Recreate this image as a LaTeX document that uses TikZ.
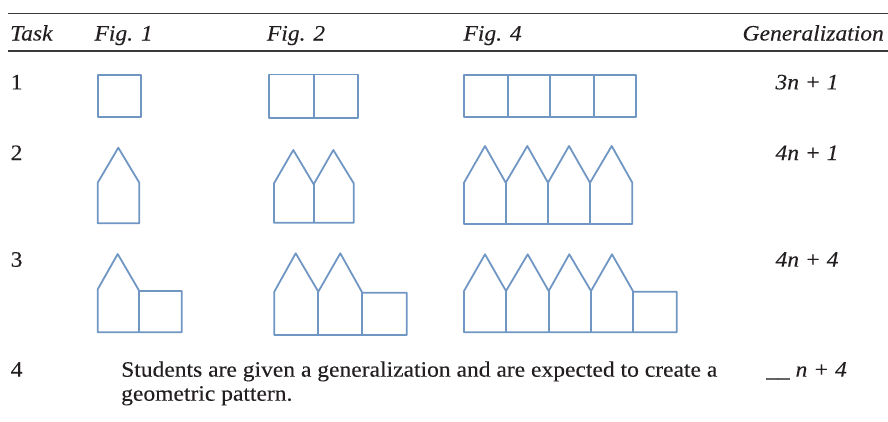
\documentclass[tikz,border=0pt]{standalone}
\usepackage{fontspec}
\setmainfont{Liberation Serif}[FakeStretch=1.07,FakeBold=0.12]
\definecolor{ink}{HTML}{231F20}
\definecolor{rulec}{HTML}{3A3A3A}
\definecolor{shape}{HTML}{7096C4}
\begin{document}
\begin{tikzpicture}[x=1pt,y=-1pt,
  txt/.style={inner sep=0pt,anchor=base west,text=ink,font=\fontsize{22}{26}\selectfont},
  itxt/.style={txt,font=\fontsize{22}{26}\selectfont\itshape},
  tabrule/.style={draw=rulec,line width=1.3pt},
  fig/.style={draw=shape,line width=1.8pt,line join=round}]
\useasboundingbox (0,0) rectangle (888,421);
% rules
\coordinate (r1a) at (8,13.3); \coordinate (r1b) at (888,13.3);
\coordinate (r2a) at (8,51); \coordinate (r2b) at (888,51);
\draw[tabrule] (r1a) -- (r1b);
\draw[tabrule] (r2a) -- (r2b);
% header
\node[itxt] (hTask) at (10,40.5) {Task};
\node[itxt] (hF1) at (94.3,40.5) {Fig. 1};
\node[itxt] (hF2) at (266.7,40.5) {Fig. 2};
\node[itxt] (hF4) at (463.3,40.5) {Fig. 4};
\node[itxt,anchor=base east] (hGen) at (884,40.5) {Generalization};
% task numbers
\node[txt] (t1) at (10.5,89.3) {1};
\node[txt] (t2) at (10.5,160) {2};
\node[txt] (t3) at (10.5,266.7) {3};
\node[txt] (t4) at (10.5,376.7) {4};
% generalizations
\node[itxt,anchor=base] (g1) at (807,89.3) {3n + 1};
\node[itxt,anchor=base] (g2) at (807,160) {4n + 1};
\node[itxt,anchor=base] (g3) at (807,266.7) {4n + 4};
\node[itxt] (g4) at (766,376.7) {\_\_ n + 4};
% task 4 text
\node[txt] (d1) at (121,376.7) {Students are given a generalization and are expected to create a};
\node[txt] (d2) at (121,400.7) {geometric pattern.};
% ---- Row 1: squares
\draw[fig] (98.3,75) rectangle (141,116.7);
\draw[fig] (269.3,74.5) rectangle (357.7,118); \draw[fig] (314,74.5) -- (314,118);
\draw[fig] (464.3,75) rectangle (635.7,117.3);
\foreach \x in {508.3,550,594} \draw[fig] (\x,75) -- (\x,117.3);
% ---- Row 2: houses
\draw[fig] (97.7,223.3) -- (97.7,182.7) -- (118.3,147.7) -- (139.3,182.7) -- (139.3,223.3) -- cycle;
\draw[fig] (274,222.7) -- (274,183.3) -- (293.3,150) -- (313.7,184.3) -- (333.3,150) -- (353.7,183.3) -- (353.7,222.7) -- cycle;
\draw[fig] (313.7,184.3) -- (313.7,222.7);
\draw[fig] (464,224) -- (464,182.7) -- (485,146) -- (505.7,182.7) -- (527.3,146) -- (548,182.7) -- (569,146) -- (590,182.7) -- (611.7,146) -- (632.3,182.7) -- (632.3,224) -- cycle;
\foreach \x in {505.7,548,590} \draw[fig] (\x,182.7) -- (\x,224);
% ---- Row 3: houses + square
\draw[fig] (97.7,332.3) -- (97.7,289.3) -- (117.7,254) -- (139.3,291) -- (181.7,291) -- (181.7,332.3) -- cycle;
\draw[fig] (139.3,291) -- (139.3,332.3);
\draw[fig] (274.3,335) -- (274.3,291.7) -- (295.7,253.3) -- (318.3,291.7) -- (340.3,253.3) -- (362.3,292.7) -- (406.7,292.7) -- (406.7,335) -- cycle;
\draw[fig] (318.3,291.7) -- (318.3,335);
\draw[fig] (362.3,292.7) -- (362.3,335);
\draw[fig] (464,332.3) -- (464,291) -- (485,254.3) -- (506,291) -- (527.7,254.3) -- (548.7,291) -- (569.3,254.3) -- (591,291) -- (612,254.3) -- (633.3,291.7) -- (676.7,291.7) -- (676.7,332.3) -- cycle;
\foreach \x in {506,548.7,591,633.3} \draw[fig] (\x,291) -- (\x,332.3);
\end{tikzpicture}
\end{document}
